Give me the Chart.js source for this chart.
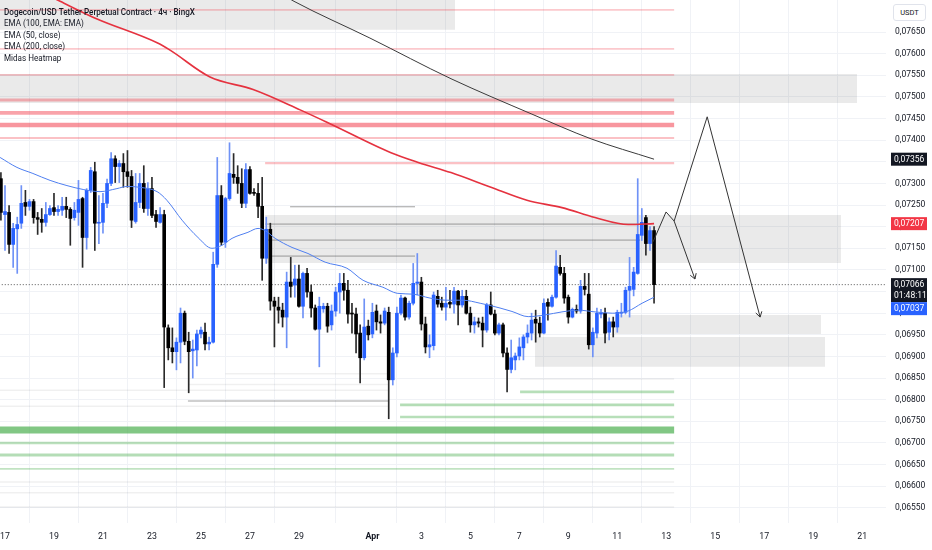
<!DOCTYPE html>
<html>
<head>
<meta charset="utf-8">
<script src="https://cdn.jsdelivr.net/npm/chart.js@4.4.1/dist/chart.umd.min.js"></script>
<style>
  html,body{margin:0;padding:0;background:#fff;}
  #wrap{position:relative;width:932px;height:550px;}
  #legend{position:absolute;left:4px;top:7px;font:8.8px Roboto,"Noto Sans",sans-serif;color:#131722;line-height:11.4px;pointer-events:none;transform:scaleX(.92);transform-origin:left top;}
  #legend .t{font-weight:500;}
  #unit{position:absolute;left:893px;top:4px;width:31px;height:15px;border:1px solid #e0e3eb;border-radius:3px;background:#fff;font:7.5px Roboto,sans-serif;color:#131722;text-align:center;line-height:15px;}
</style>
</head>
<body>
<div id="wrap">
  <canvas id="c"></canvas>
  <div id="legend">
    <div class="t">Dogecoin/USD Tether Perpetual Contract · 4ч · BingX</div>
    <div>EMA (100, EMA: EMA)</div>
    <div>EMA (50, close)</div>
    <div>EMA (200, close)</div>
    <div>Midas Heatmap</div>
  </div>
  <div id="unit">USDT</div>
</div>
<script>
// time unit = day of March (1 Apr = 32); one candle every 4h
const firstCandle = 16 + 20/24;
const candleStep = 1/6;

// [open, high, low, close]
const candles = [
  [0.07311,0.07325,0.07215,0.07233],[0.07228,0.07295,0.07145,0.07235],[0.07233,0.07249,0.07138,0.07159],[0.07159,0.07208,0.07106,0.07196],
  [0.07195,0.07222,0.07092,0.07205],[0.07208,0.07295,0.07196,0.07254],[0.07256,0.07284,0.07226,0.07247],[0.07247,0.07263,0.07238,0.07258],
  [0.07258,0.07263,0.07208,0.07221],[0.07221,0.07233,0.07182,0.07217],[0.07217,0.07242,0.07187,0.07210],[0.07210,0.07256,0.07201,0.07228],
  [0.07228,0.07249,0.07226,0.07242],[0.07244,0.07277,0.07226,0.07235],[0.07235,0.07249,0.07226,0.07240],[0.07238,0.07268,0.07226,0.07247],
  [0.07247,0.07268,0.07221,0.07240],[0.07240,0.07244,0.07157,0.07219],[0.07221,0.07256,0.07215,0.07238],[0.07233,0.07307,0.07203,0.07263],
  [0.07265,0.07268,0.07106,0.07175],[0.07175,0.07288,0.07148,0.07284],[0.07284,0.07337,0.07279,0.07330],[0.07327,0.07349,0.07145,0.07208],
  [0.07208,0.07272,0.07161,0.07210],[0.07210,0.07277,0.07185,0.07254],[0.07254,0.07310,0.07244,0.07300],[0.07300,0.07371,0.07295,0.07357],
  [0.07357,0.07364,0.07302,0.07339],[0.07339,0.07353,0.07302,0.07346],[0.07346,0.07369,0.07291,0.07327],[0.07327,0.07376,0.07291,0.07316],
  [0.07316,0.07330,0.07198,0.07215],[0.07212,0.07323,0.07208,0.07256],[0.07256,0.07323,0.07244,0.07300],[0.07300,0.07341,0.07233,0.07242],
  [0.07242,0.07302,0.07226,0.07288],[0.07288,0.07314,0.07221,0.07226],[0.07228,0.07238,0.07198,0.07212],[0.07210,0.07244,0.07208,0.07228],
  [0.07228,0.07238,0.06828,0.06968],[0.06966,0.06973,0.06892,0.06920],[0.06920,0.06966,0.06885,0.06911],[0.06911,0.06943,0.06869,0.06933],
  [0.06933,0.07012,0.06885,0.07000],[0.07000,0.07005,0.06927,0.06935],[0.06935,0.06956,0.06816,0.06911],[0.06913,0.06938,0.06850,0.06917],
  [0.06915,0.06961,0.06878,0.06952],[0.06952,0.06968,0.06943,0.06961],[0.06956,0.06977,0.06915,0.06929],[0.06929,0.06945,0.06915,0.06933],
  [0.06933,0.07141,0.06931,0.07113],[0.07113,0.07360,0.07106,0.07272],[0.07272,0.07295,0.07157,0.07164],[0.07164,0.07268,0.07152,0.07265],
  [0.07265,0.07394,0.07261,0.07323],[0.07321,0.07369,0.07300,0.07314],[0.07314,0.07341,0.07277,0.07300],[0.07300,0.07334,0.07244,0.07254],
  [0.07254,0.07346,0.07244,0.07332],[0.07332,0.07339,0.07275,0.07277],[0.07279,0.07288,0.07272,0.07277],[0.07277,0.07300,0.07221,0.07247],
  [0.07247,0.07314,0.07076,0.07127],[0.07127,0.07222,0.07115,0.07194],[0.07194,0.07208,0.07007,0.07028],[0.07028,0.07037,0.06922,0.07016],
  [0.07014,0.07037,0.06977,0.07007],[0.07007,0.07023,0.06968,0.06991],[0.06991,0.07095,0.06920,0.07072],[0.07072,0.07129,0.07037,0.07062],
  [0.07065,0.07111,0.07037,0.07079],[0.07079,0.07111,0.07014,0.07016],[0.07016,0.07095,0.06989,0.07092],[0.07092,0.07104,0.07037,0.07049],
  [0.07049,0.07065,0.06991,0.07012],[0.07012,0.07019,0.06961,0.06963],[0.06963,0.07037,0.06876,0.07016],[0.07010,0.07023,0.07002,0.07016],
  [0.07016,0.07023,0.06956,0.06970],[0.06973,0.07019,0.06961,0.07005],[0.07005,0.07060,0.06993,0.07049],[0.07049,0.07092,0.07000,0.07069],
  [0.07069,0.07092,0.07030,0.07053],[0.07053,0.07076,0.06977,0.06998],[0.07000,0.07023,0.06954,0.06998],[0.06998,0.07012,0.06908,0.06952],
  [0.06954,0.06973,0.06839,0.06897],[0.06897,0.07033,0.06892,0.06968],[0.06970,0.06984,0.06938,0.06950],[0.06952,0.07023,0.06943,0.07002],
  [0.07005,0.07019,0.06961,0.06980],[0.06980,0.06996,0.06954,0.06977],[0.06977,0.07012,0.06973,0.07005],[0.07002,0.07014,0.06756,0.06846],
  [0.06846,0.06920,0.06834,0.06908],[0.06908,0.07014,0.06899,0.07000],[0.07000,0.07042,0.06996,0.07035],[0.07035,0.07037,0.06984,0.06991],
  [0.06991,0.07028,0.06986,0.07023],[0.07023,0.07115,0.07019,0.07069],[0.07069,0.07138,0.07042,0.07072],[0.07072,0.07083,0.06961,0.06975],
  [0.06975,0.06991,0.06908,0.06922],[0.06922,0.06950,0.06897,0.06927],[0.06925,0.07049,0.06915,0.07042],[0.07039,0.07053,0.07014,0.07021],
  [0.07023,0.07037,0.07007,0.07014],[0.07014,0.07060,0.06984,0.07023],[0.07025,0.07053,0.07012,0.07021],[0.07021,0.07060,0.07000,0.07051],
  [0.07051,0.07053,0.06973,0.07019],[0.07019,0.07053,0.07014,0.07039],[0.07039,0.07053,0.06998,0.07000],[0.07000,0.07014,0.06956,0.06973],
  [0.06973,0.06991,0.06954,0.06980],[0.06980,0.06989,0.06968,0.06977],[0.06977,0.06991,0.06922,0.06961],[0.06961,0.07023,0.06956,0.07019],
  [0.07019,0.07049,0.06996,0.06998],[0.06998,0.07007,0.06950,0.06954],[0.06954,0.06977,0.06950,0.06973],[0.06973,0.06977,0.06899,0.06908],
  [0.06908,0.06920,0.06818,0.06870],[0.06870,0.06938,0.06862,0.06897],[0.06892,0.06908,0.06869,0.06901],[0.06901,0.06943,0.06892,0.06922],
  [0.06920,0.06950,0.06892,0.06945],[0.06945,0.06973,0.06931,0.06954],[0.06954,0.07000,0.06938,0.06984],[0.06986,0.07007,0.06933,0.06977],
  [0.06977,0.06991,0.06945,0.06954],[0.06954,0.07033,0.06952,0.07023],[0.07025,0.07033,0.06984,0.07016],[0.07016,0.07042,0.07014,0.07037],
  [0.07037,0.07145,0.07035,0.07109],[0.07106,0.07134,0.07088,0.07092],[0.07092,0.07106,0.07023,0.07035],[0.07037,0.07042,0.06977,0.06991],
  [0.06991,0.07012,0.06989,0.07009],[0.07009,0.07019,0.07000,0.07005],[0.07005,0.07076,0.07000,0.07062],[0.07062,0.07092,0.07042,0.07055],
  [0.07044,0.07092,0.06917,0.06927],[0.06927,0.06966,0.06899,0.06956],[0.06954,0.07012,0.06943,0.07000],[0.06998,0.07009,0.06989,0.07000],
  [0.07000,0.07012,0.06931,0.06954],[0.06956,0.06989,0.06938,0.06980],[0.06980,0.06991,0.06945,0.06968],[0.06968,0.07007,0.06956,0.07002],
  [0.07000,0.07023,0.06991,0.07002],[0.07002,0.07060,0.06998,0.07053],[0.07053,0.07129,0.06991,0.07062],[0.07055,0.07106,0.07040,0.07095],
  [0.07092,0.07311,0.07090,0.07182],[0.07180,0.07242,0.07168,0.07210],[0.07221,0.07226,0.07134,0.07161],[0.07161,0.07200,0.07145,0.07191],
  [0.07191,0.07200,0.07023,0.07066]
];

const ema50Days = [16.80,17.49,18.14,18.84,19.53,20.19,20.88,21.57,21.98,22.51,23.21,23.61,24.23,24.88,25.45,25.86,26.27,26.92,27.33,27.62,
  28.03,28.72,29.37,30.07,30.96,31.62,32.43,33.01,33.66,34.35,35.05,35.70,36.40,37.21,37.70,38.36,39.05,39.74,40.40,41.09,41.79,42.44,43.01,43.50];
const ema50 = [0.07360,0.07337,0.07323,0.07307,0.07295,0.07286,0.07281,0.07288,0.07293,0.07291,0.07281,0.07261,0.07215,0.07175,0.07150,0.07157,0.07173,0.07187,0.07196,0.07191,
  0.07173,0.07152,0.07138,0.07118,0.07104,0.07076,0.07060,0.07046,0.07044,0.07035,0.07030,0.07030,0.07023,0.07012,0.07004,0.06992,0.06996,0.07003,0.07007,0.07003,0.07000,0.07005,0.07023,0.07037];
const ema200Days = [18.43,19.25,20.76,23.21,23.74,25.37,27.13,29.05,30.27,32.76,33.90,35.21,36.84,38.31,39.74,41.09,42.44,43.50];
const ema200 = [0.07744,0.07721,0.07680,0.07625,0.07608,0.07546,0.07517,0.07470,0.07438,0.07371,0.07348,0.07325,0.07291,0.07261,0.07244,0.07221,0.07205,0.07207];
const ema100Days = [28.23,28.80,31.90,35.21,38.48,40.93,43.50];
const ema100 = [0.07740,0.07721,0.07636,0.07542,0.07461,0.07403,0.07356];

// Midas heatmap: sell-side (red) and buy-side (green) levels, strength 0..1
const heatEnd = 44.32;
const redLevels = [0.07701,0.07611,0.07551,0.07493,0.07463,0.07435,0.07405,0.07347];
const redStrength = [0.15,0.15,0.15,0.5,0.8,1,0.3,0.3];
const redFrom = [16.5,16.5,16.5,16.5,16.5,16.5,16.5,27.62];
const greenLevels = [0.06818,0.06788,0.06760,0.06730,0.06700,0.06672,0.06640];
const greenStrength = [0.25,0.3,0.25,1,0.22,0.3,0.12];
const greenFrom = [38.03,33.13,33.13,16.5,16.5,16.5,16.5];
const greyLevels = [0.07246,0.07206,0.07169,0.07132,0.06797];
const greyFrom = [28.64,27.62,27.62,27.82,24.47];
const greyTo = [33.74,42.93,42.93,33.74,32.64];
const faintLevels = [0.06848,0.06610,0.06585,0.06552,0.06822,0.06785,0.06860,0.06835];
const faintFrom = [38.03,16.5,16.5,16.5,16.5,16.5,26.0,24.5];
const faintTo = [44.32,44.32,44.32,44.32,32.64,32.64,32.64,32.64];
// zones: [from day, to day, top price, bottom price]
const zones = [
  [16.5,35.38,0.07760,0.07655],
  [16.5,51.79,0.07553,0.07486],
  [27.62,51.13,0.07227,0.07116],
  [41.90,50.32,0.06996,0.06952],
  [38.64,50.48,0.06945,0.06876]
];

// drawn projection
const pathDays = [43.46,43.99,44.32,45.67,47.83];
const pathPrices = [0.07165,0.07234,0.07213,0.07454,0.06991];
const altDays = [44.32,45.17];
const altPrices = [0.07213,0.07079];

const lastPrice = 0.07066;
const countdown = '01:48:11';
const tagValues = [0.07356,0.07207,0.07066,0.07037];
const tagColors = ['#131722','#f23645','#131722','#2962ff'];

const xTickDays = [17,19,21,23,25,27,29,32,34,36,38,40,42,44,46,48,50,52];
const xTickLabels = ['17','19','21','23','25','27','29','Apr','3','5','7','9','11','13','15','17','19','21'];
const yTicks = [0.0655,0.0660,0.0665,0.0670,0.0675,0.0680,0.0685,0.0690,0.0695,0.0700,0.0705,0.0710,0.0715,
  0.0720,0.0725,0.0730,0.0735,0.0740,0.0745,0.0750,0.0755,0.0760,0.0765];

const UP='#2962ff', DOWN='#000000';
const times = candles.map((k,i)=>firstCandle+i*candleStep);
const cols = candles.map(k=>k[3]>=k[0]?UP:DOWN);
const wickCols = candles.map(k=>k[3]>=k[0]?'#6f92f6':'#2a2a2a');
const seg = (a,b,p)=>[{x:a,y:p},{x:b,y:p}];
const pts = (xs,ys)=>xs.map((x,i)=>({x,y:ys[i]}));
const flat = (data,color,w,extra)=>Object.assign({type:'line',data,borderColor:color,borderWidth:w,pointRadius:0,fill:false,order:5},extra||{});

const ds = [];
zones.forEach(z=>{
  ds.push(flat(seg(z[0],z[1],z[2]),'rgba(0,0,0,0)',0,{fill:'+1',backgroundColor:'rgba(20,20,20,0.09)',order:6}));
  ds.push(flat(seg(z[0],z[1],z[3]),'rgba(0,0,0,0)',0,{order:6}));
});
faintLevels.forEach((p,i)=>ds.push(flat(seg(faintFrom[i],faintTo[i],p),'rgba(0,0,0,0.06)',1.5)));
greyLevels.forEach((p,i)=>ds.push(flat(seg(greyFrom[i],greyTo[i],p),'rgba(70,70,70,0.5)',1)));
redLevels.forEach((p,i)=>ds.push(flat(seg(redFrom[i],heatEnd,p),`rgba(242,54,69,${0.22+0.3*redStrength[i]})`,1.2+3.4*redStrength[i])));
greenLevels.forEach((p,i)=>ds.push(flat(seg(greenFrom[i],heatEnd,p),`rgba(76,175,80,${0.3+0.4*greenStrength[i]})`,1.2+5.8*greenStrength[i])));
ds.push(flat(seg(16.5,54,lastPrice),'#555',1,{borderDash:[1,2],order:4}));

ds.push({type:'bar',data:candles.map((k,i)=>({x:times[i],y:[k[2],k[1]]})),backgroundColor:wickCols,barThickness:1,grouped:false,order:3});
ds.push({type:'bar',data:candles.map((k,i)=>({x:times[i],y:[k[0],k[3]]})),backgroundColor:cols,barThickness:3,minBarLength:1,grouped:false,order:2});

const smooth = {order:1,cubicInterpolationMode:'monotone'};
ds.push(flat(pts(ema50Days,ema50),'#4f7ff0',1,smooth));
ds.push(flat(pts(ema200Days,ema200),'#e5323f',1.6,smooth));
ds.push(flat(pts(ema100Days,ema100),'#3a3a3a',1,smooth));
ds.push(flat(pts(pathDays,pathPrices),'#333',1,{order:0,arrow:true}));
ds.push(flat(pts(altDays,altPrices),'#333',1,{order:0,arrow:true}));

const overlay={
  id:'overlay',
  afterDatasetsDraw(chart){
    const ctx=chart.ctx;
    chart.data.datasets.forEach((d,i)=>{
      if(!d.arrow) return;
      const el=chart.getDatasetMeta(i).data, a=el[el.length-2], b=el[el.length-1];
      const ang=Math.atan2(b.y-a.y,b.x-a.x), L=6;
      ctx.save();ctx.strokeStyle=d.borderColor;ctx.lineWidth=1;ctx.beginPath();
      ctx.moveTo(b.x-L*Math.cos(ang-0.55),b.y-L*Math.sin(ang-0.55));
      ctx.lineTo(b.x,b.y);
      ctx.lineTo(b.x-L*Math.cos(ang+0.55),b.y-L*Math.sin(ang+0.55));
      ctx.stroke();ctx.restore();
    });
  },
  afterDraw(chart){
    const ctx=chart.ctx, y=chart.scales.y, x0=chart.chartArea.right+5;
    let prevBottom=-1e9;
    ctx.save();
    ctx.font='8.5px Roboto, sans-serif';ctx.textBaseline='middle';
    tagValues.forEach((v,i)=>{
      const two=v===lastPrice, h=two?24:13;
      let top=y.getPixelForValue(v)-6.5;
      if(top<prevBottom) top=prevBottom;
      ctx.fillStyle=tagColors[i];
      ctx.fillRect(x0,top,36,h);
      ctx.fillStyle='#fff';
      ctx.fillText(v.toFixed(5).replace('.',','),x0+3,top+7);
      if(two) ctx.fillText(countdown,x0+3,top+17.5);
      prevBottom=top+h;
    });
    ctx.restore();
  }
};

new Chart(document.getElementById('c'),{
  type:'bar',
  data:{datasets:ds},
  plugins:[overlay],
  options:{
    responsive:true,maintainAspectRatio:false,animation:false,
    layout:{padding:0},
    plugins:{legend:{display:false},tooltip:{enabled:false},title:{display:false}},
    scales:{
      x:{type:'linear',min:16.796,max:52.97,offset:false,
        grid:{color:'#f0f2f6',drawTicks:false},border:{display:false},
        afterBuildTicks:s=>{s.ticks=xTickDays.map(v=>({value:v}));},
        afterFit:s=>{s.height=27;s.paddingLeft=0;s.paddingRight=0;},
        ticks:{padding:9,maxRotation:0,autoSkip:false,color:'#131722',
          font:c=>({family:'Roboto',size:8.8,weight:xTickLabels[c.index]==='Apr'?'bold':'normal'}),
          callback:(v,i)=>xTickLabels[i]}},
      y:{position:'right',min:0.06515,max:0.07724,
        grid:{color:'#f0f2f6',drawTicks:false},border:{display:false},
        afterBuildTicks:s=>{s.ticks=yTicks.map(v=>({value:v}));},
        afterFit:s=>{s.width=46;s.paddingTop=0;s.paddingBottom=0;},
        ticks:{padding:9,color:'#131722',font:{family:'Roboto',size:8.5},
          callback:v=>v.toFixed(5).replace('.',',')}}
    }
  }
});
</script>
</body>
</html>
